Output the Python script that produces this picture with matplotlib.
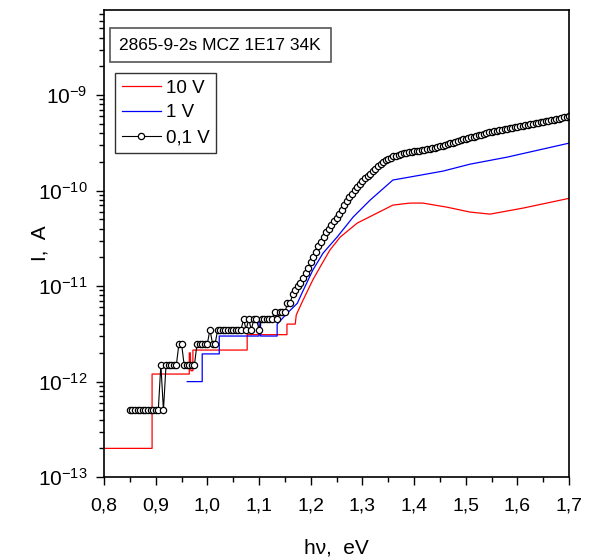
import numpy as np
from matplotlib import pyplot as plt
import matplotlib

matplotlib.rcParams.update({
    'font.family': ['Liberation Sans', 'DejaVu Sans'],
    'mathtext.fontset': 'custom',
    'mathtext.rm': 'Liberation Sans',
    'mathtext.it': 'Liberation Sans:italic',
    'font.size': 13,
})

# 10 V curve (hv in eV, current in A)
red_x = [0.800, 0.893, 0.893, 0.965, 0.965, 0.967, 0.968, 0.972, 0.972,
         1.077, 1.077, 1.154, 1.154, 1.170, 1.172, 1.185, 1.204, 1.218,
         1.237, 1.257, 1.290, 1.328, 1.359, 1.392, 1.417, 1.464, 1.508,
         1.547, 1.611, 1.700]
red_y = [2.0e-13, 2.0e-13, 1.2e-12, 1.2e-12, 2.0e-12, 2.0e-12, 1.3e-12, 1.3e-12, 2.14e-12,
         2.14e-12, 3.1e-12, 3.1e-12, 4.0e-12, 4.0e-12, 5.0e-12, 7.1e-12, 1.16e-11, 1.58e-11,
         2.38e-11, 3.26e-11, 4.57e-11, 5.8e-11, 7.05e-11, 7.4e-11, 7.4e-11, 6.7e-11, 5.96e-11,
         5.67e-11, 6.56e-11, 8.3e-11]

# 1 V curve
blue_x = [0.961, 0.990, 0.990, 1.023, 1.023, 1.100, 1.100, 1.103, 1.103,
          1.135, 1.135, 1.156, 1.174, 1.183, 1.193, 1.204, 1.224, 1.251,
          1.282, 1.315, 1.359, 1.412, 1.456, 1.508, 1.580, 1.700]
blue_y = [1.0e-12, 1.0e-12, 1.95e-12, 1.95e-12, 3.0e-12, 3.0e-12, 4.2e-12, 4.2e-12, 3.0e-12,
          3.0e-12, 4.0e-12, 5.3e-12, 6.6e-12, 8.45e-12, 1.10e-11, 1.47e-11, 2.22e-11, 3.26e-11,
          5.28e-11, 7.96e-11, 1.29e-10, 1.45e-10, 1.60e-10, 1.89e-10, 2.24e-10, 3.14e-10]

# 0,1 V curve, measured every 5 meV from 0.85 to 1.70 eV (values in pA)
black_x = np.round(np.arange(0.850, 1.7025, 0.005), 3)
black_pA = [
    0.5, 0.5, 0.5, 0.5, 0.5, 0.5, 0.5, 0.5, 0.5, 0.5, 0.5, 0.5,
    1.5, 0.5, 1.5, 1.5, 1.5, 1.5, 1.5,
    2.5, 2.5, 1.5, 1.5, 1.5, 1.5, 1.5,
    2.5, 2.5, 2.5, 2.5, 2.5,
    3.5, 2.5, 2.5, 3.5, 3.5, 3.5, 3.5, 3.5, 3.5, 3.5, 3.5, 3.5, 3.5,
    4.5, 3.5, 4.5, 3.5, 4.5, 4.5, 3.5, 4.5, 4.5, 4.5, 4.5, 4.5,
    5.3, 4.5, 5.3, 5.3, 5.3,
    6.6, 6.6, 8.2, 9.0, 10, 10.8, 12.2, 13.8, 15.5, 17.8,
    20, 23, 26.5, 29, 32.5, 36.5, 40, 44, 48, 52,
    57, 63, 70, 78, 85, 93, 101, 109, 118, 126,
    134, 142, 150, 160, 170, 180, 190, 200, 208, 215,
    222, 228, 233, 238, 242, 245, 248, 251, 254, 257,
    260, 262, 265, 268, 271, 274, 277, 281, 285, 290,
    295, 300, 306, 312, 318, 324, 330, 337, 343, 350,
    355, 360, 366, 372, 378, 385, 392, 400, 407, 413,
    418, 423, 428, 433, 438, 443, 449, 455, 461, 467,
    473, 479, 485, 491, 497, 503, 509, 515, 521, 527,
    533, 539, 545, 552, 560, 568, 577, 586, 595, 603,
]
black_y = np.array(black_pA) * 1e-12

x_ticks = [0.8, 0.9, 1.0, 1.1, 1.2, 1.3, 1.4, 1.5, 1.6, 1.7]
x_ticklabels = ['0,8', '0,9', '1,0', '1,1', '1,2', '1,3', '1,4', '1,5', '1,6', '1,7']


def make_plot():
    fig = plt.figure(figsize=(5.91, 5.60), dpi=100)
    ax = fig.add_axes([0.176, 0.148, 0.787, 0.834])

    ax.plot(red_x, red_y, color='red', lw=0.9, label='10 V')
    ax.plot(blue_x, blue_y, color='blue', lw=0.9, label='1 V')
    ax.plot(black_x, black_y, color='black', lw=0.8, marker='o', ms=4.5,
            mfc='white', mec='black', mew=0.9, label='0,1 V')

    ax.set_yscale('log')
    ax.set_xlim(0.8, 1.7)
    ax.set_ylim(1e-13, 10 ** -8.11)
    ax.set_xticks(x_ticks)
    ax.set_xticklabels(x_ticklabels)
    ax.set_xticks(np.arange(0.85, 1.7, 0.1), minor=True)
    ax.tick_params(which='both', direction='out', top=False, right=False,
                   labelsize=14, width=1.0)
    ax.tick_params(axis='x', which='major', length=6, pad=9)
    ax.tick_params(axis='y', which='major', length=6, pad=6, labelsize=15)
    ax.tick_params(which='minor', length=3.5)
    for s in ax.spines.values():
        s.set_linewidth(1.2)

    ax.set_xlabel("h\u03bd,  eV", fontsize=15, labelpad=17)
    ax.set_ylabel("I,  A", fontsize=15)
    ax.yaxis.set_label_coords(-0.118, 0.5)

    ax.text(0.25, 0.925, "2865-9-2s MCZ 1E17 34K", transform=ax.transAxes,
            ha='center', va='center', fontsize=12.5,
            bbox=dict(boxstyle='square,pad=0.55', fc='white', ec='#555555', lw=1.2))

    leg = ax.legend(loc='upper left', bbox_to_anchor=(0.024, 0.865), fontsize=13.5,
                    frameon=True, fancybox=False, edgecolor='black',
                    handlelength=2.1, handletextpad=0.25, labelspacing=0.4,
                    borderpad=0.35, borderaxespad=0)
    leg.get_frame().set_linewidth(1.0)

    plt.savefig("out.png", dpi=100)


if __name__ == "__main__":
    make_plot()
